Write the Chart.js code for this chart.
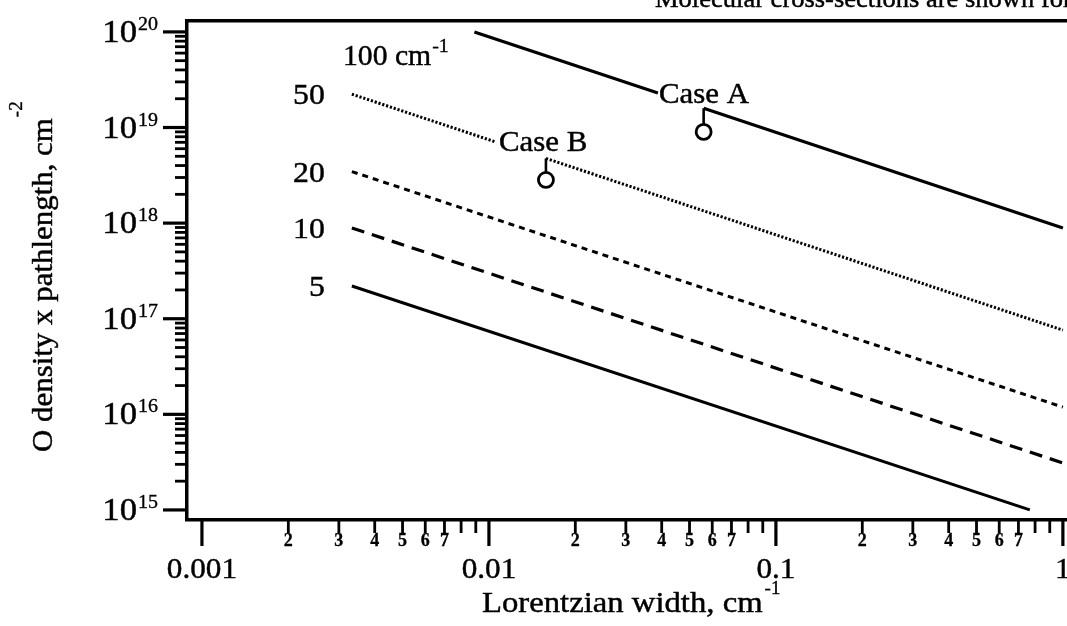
<!DOCTYPE html>
<html><head><meta charset="utf-8">
<script src="https://cdn.jsdelivr.net/npm/chart.js@4.4.1/dist/chart.umd.min.js"></script>
<style>
html,body{margin:0;padding:0;background:#fff;overflow:hidden}
#wrap{width:1067px;height:626px;overflow:hidden;position:relative;background:#fff}
canvas{display:block}
</style>
</head><body><div id="wrap"><canvas id="c" width="1100" height="626"></canvas></div>
<script>
// ---- axis ranges ----
const X_MIN = 8.87e-4, X_MAX = 1.24;
const Y_MIN = 7.85e14, Y_MAX = 1.30e20;

// ---- tick values and labels ----
const xMajorTicks = [0.001, 0.01, 0.1, 1];
const xMajorLabels = ['0.001', '0.01', '0.1', '1'];
const minorMultipliers = [2, 3, 4, 5, 6, 7, 8, 9];
const xMinorLabels = ['2', '3', '4', '5', '6', '7', '', ''];
const yMajorExponents = [15, 16, 17, 18, 19, 20];
const yMajorBase = '10';

// ---- series: Lorentzian width (cm-1) -> O density x pathlength (cm-2); null = gap for a label ----
const seriesNames = ['100', '50', '20', '10', '5'];
const w100x = [0.0089, 0.0388, 0.047, 0.056, 1.0];
const w100y = [1.0e20, 2.29e19, null, 1.59e19, 8.9e17];
const w50x  = [0.00333, 0.0105, 0.0128, 0.0158, 1.0];
const w50y  = [2.23e19, 7.1e18, null, 4.75e18, 7.6e16];
const w20x  = [0.00333, 1.0];
const w20y  = [3.46e18, 1.19e16];
const w10x  = [0.00333, 1.0];
const w10y  = [8.9e17, 3.1e15];
const w5x   = [0.00333, 0.767];
const w5y   = [2.2e17, 1.0e15];

// ---- measured cases ----
const caseNames = ['Case A', 'Case B'];
const caseX = [0.056, 0.0158];
const caseY = [9.0e18, 2.83e18];
const stemTopY = [1.59e19, 4.75e18];
const stemBottomY = [1.09e19, 3.43e18];

// ---- label anchor for the "100 cm-1" series name ----
const label100X = 0.0031, label100Y = 5.9e19;

const mk = (xs, ys) => xs.map((x, i) => ({x: x, y: ys[i]}));
const FONT = '"Liberation Serif","Times New Roman",serif';

function drawText(ctx, s, x, y, size, o) {
  o = o || {};
  const sx = (o.sx !== undefined) ? o.sx : 1.06;
  ctx.save();
  ctx.font = (o.bold ? 'bold ' : '') + size + 'px ' + FONT;
  ctx.fillStyle = '#000';
  ctx.strokeStyle = '#000';
  ctx.lineWidth = (o.stroke !== undefined) ? o.stroke : 0.45;
  ctx.lineJoin = 'round';
  ctx.textAlign = o.align || 'left';
  ctx.textBaseline = o.baseline || 'alphabetic';
  ctx.translate(x, y);
  if (o.rot) ctx.rotate(o.rot);
  ctx.scale(sx, 1);
  ctx.fillText(s, 0, 0);
  if (ctx.lineWidth > 0) ctx.strokeText(s, 0, 0);
  const w = ctx.measureText(s).width * sx;
  ctx.restore();
  return w;
}

const decorPlugin = {
  id: 'decor',
  afterDraw(chart) {
    const ctx = chart.ctx;
    const xs = chart.scales.x, ys = chart.scales.y;
    const area = chart.chartArea;
    ctx.save();
    ctx.strokeStyle = '#000';
    ctx.lineCap = 'butt';
    // x ticks
    xMajorTicks.forEach((v, i) => {
      const px = xs.getPixelForValue(v);
      ctx.lineWidth = 3.2;
      ctx.beginPath(); ctx.moveTo(px, area.bottom); ctx.lineTo(px, area.bottom + 26); ctx.stroke();
      drawText(ctx, xMajorLabels[i], px, 578, 30, {align: 'center', sx: 1.04});
      if (i < xMajorTicks.length - 1) {
        minorMultipliers.forEach((m, j) => {
          const mx = xs.getPixelForValue(v * m);
          ctx.lineWidth = 2.8;
          ctx.beginPath(); ctx.moveTo(mx, area.bottom); ctx.lineTo(mx, area.bottom + 13); ctx.stroke();
          if (xMinorLabels[j]) drawText(ctx, xMinorLabels[j], mx, 546, 18, {align: 'center', bold: true, sx: 1.0, stroke: 0.3});
        });
      }
    });
    // y ticks
    yMajorExponents.forEach((e, i) => {
      const v = Math.pow(10, e);
      const py = ys.getPixelForValue(v);
      ctx.lineWidth = 3.2;
      ctx.beginPath(); ctx.moveTo(area.left - 24, py); ctx.lineTo(area.left, py); ctx.stroke();
      drawText(ctx, yMajorBase, 137, py + 10, 31, {align: 'right', sx: 1.12});
      drawText(ctx, String(e), 138, py - 2, 19, {sx: 1.05, stroke: 0.35});
      if (i < yMajorExponents.length - 1) {
        minorMultipliers.forEach(m => {
          const my = ys.getPixelForValue(v * m);
          ctx.lineWidth = 2.8;
          ctx.beginPath(); ctx.moveTo(area.left - 12, my); ctx.lineTo(area.left, my); ctx.stroke();
        });
      }
    });
    ctx.restore();

    // axis titles
    const wx = drawText(ctx, 'Lorentzian width, cm', 482, 612, 30, {sx: 1.09});
    drawText(ctx, '-1', 482 + wx + 2, 594, 18, {sx: 1.05, stroke: 0.35});
    const wy = drawText(ctx, 'O density x pathlength, cm', 52, 452, 30, {rot: -Math.PI / 2, sx: 1.03});
    drawText(ctx, '-2', 52 - 30, 452 - wy - 1, 18, {rot: -Math.PI / 2, sx: 1.05, stroke: 0.35});

    // series name labels
    const firsts = [[w50x[0], w50y[0]], [w20x[0], w20y[0]], [w10x[0], w10y[0]], [w5x[0], w5y[0]]];
    firsts.forEach((p, i) => {
      const px = xs.getPixelForValue(p[0]) - 27;
      const py = ys.getPixelForValue(p[1]);
      drawText(ctx, seriesNames[i + 1], px, py + 10, 30, {align: 'right', sx: 1.06});
    });
    const lx = xs.getPixelForValue(label100X), ly = ys.getPixelForValue(label100Y);
    const w1 = drawText(ctx, seriesNames[0] + ' cm', lx, ly + 11, 30, {sx: 0.99});
    drawText(ctx, '-1', lx + w1 + 1, ly - 2, 19, {sx: 1.05, stroke: 0.35});

    // case labels at the gaps
    const gA = [xs.getPixelForValue(w100x[1]), ys.getPixelForValue(w100y[1])];
    drawText(ctx, caseNames[0], gA[0] + 1, gA[1] + 10, 30, {sx: 1.03});
    const gB = [xs.getPixelForValue(w50x[1]), ys.getPixelForValue(w50y[1])];
    drawText(ctx, caseNames[1], gB[0] + 4, gB[1] + 9, 30, {sx: 1.03});

    // partially visible caption at the top
    drawText(ctx, 'Molecular cross-sections are shown for', 655, 7, 26, {sx: 1.02});
  }
};

const lineBase = {showLine: true, pointRadius: 0, pointHoverRadius: 0, borderColor: '#000', fill: false, tension: 0, spanGaps: false};

new Chart(document.getElementById('c'), {
  type: 'scatter',
  data: {
    datasets: [
      Object.assign({}, lineBase, {label: '100 cm-1', data: mk(w100x, w100y), borderWidth: 3.2}),
      Object.assign({}, lineBase, {label: '50', data: mk(w50x, w50y), borderWidth: 3.0, borderDash: [2.2, 1.8]}),
      Object.assign({}, lineBase, {label: '20', data: mk(w20x, w20y), borderWidth: 3.0, borderDash: [6, 5]}),
      Object.assign({}, lineBase, {label: '10', data: mk(w10x, w10y), borderWidth: 3.2, borderDash: [13, 8]}),
      Object.assign({}, lineBase, {label: '5', data: mk(w5x, w5y), borderWidth: 3.0}),
      Object.assign({}, lineBase, {label: 'stem A', data: mk([caseX[0], caseX[0]], [stemTopY[0], stemBottomY[0]]), borderWidth: 2.6}),
      Object.assign({}, lineBase, {label: 'stem B', data: mk([caseX[1], caseX[1]], [stemTopY[1], stemBottomY[1]]), borderWidth: 2.6}),
      {label: 'cases', data: mk(caseX, caseY), showLine: false, pointRadius: 7.5, pointHoverRadius: 7.5,
       pointBorderWidth: 2.8, pointBackgroundColor: '#fff', pointBorderColor: '#000', backgroundColor: '#fff', borderColor: '#000'}
    ]
  },
  options: {
    responsive: false,
    devicePixelRatio: 1,
    animation: false,
    events: [],
    layout: {padding: {left: 187, top: 21, right: 10, bottom: 106}},
    plugins: {legend: {display: false}, tooltip: {enabled: false}, title: {display: false}},
    scales: {
      x: {type: 'logarithmic', position: 'bottom', min: X_MIN, max: X_MAX,
          ticks: {display: false}, grid: {display: false, drawTicks: false},
          border: {display: true, width: 3.5, color: '#000'}, title: {display: false}},
      xTop: {type: 'logarithmic', position: 'top', min: X_MIN, max: X_MAX,
          ticks: {display: false}, grid: {display: false, drawTicks: false},
          border: {display: true, width: 3.5, color: '#000'}, title: {display: false}},
      y: {type: 'logarithmic', position: 'left', min: Y_MIN, max: Y_MAX,
          ticks: {display: false}, grid: {display: false, drawTicks: false},
          border: {display: true, width: 3.5, color: '#000'}, title: {display: false}}
    }
  },
  plugins: [decorPlugin]
});
</script>
</body></html>
